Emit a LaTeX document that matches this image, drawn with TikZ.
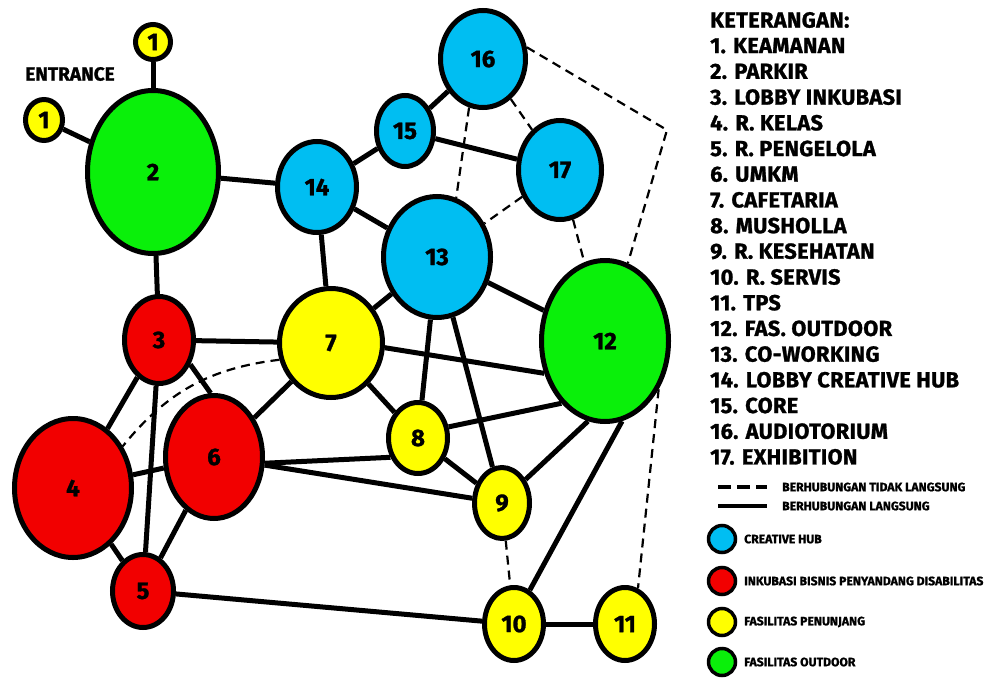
\documentclass[tikz,border=0pt]{standalone}
\usepackage{fontspec}
\setmainfont{Fira Sans}[BoldFeatures={FakeBold=1.2}]
\usetikzlibrary{shapes.geometric}

\definecolor{hub}{RGB}{0,190,242}
\definecolor{inkubasi}{RGB}{242,0,0}
\definecolor{penunjang}{RGB}{255,255,0}
\definecolor{outdoor}{RGB}{10,240,10}

\tikzset{
	room/.style={draw, ellipse, fill=#1, line width=5pt, inner sep=0pt,
		font=\fontsize{24}{24}\selectfont\bfseries},
	dim/.style 2 args={minimum width=#1pt, minimum height=#2pt},
	link/.style={line width=5pt},
	tak/.style={line width=2.2pt, dash pattern=on 9pt off 6pt},
	ket/.style={anchor=west, inner sep=0pt, font=\fontsize{21.8}{21.8}\selectfont\bfseries\addfontfeatures{LetterSpace=1.5}},
	kecil/.style={anchor=west, inner sep=0pt, font=\fontsize{12.2}{12.2}\selectfont\bfseries},
	bulat/.style={draw, circle, fill=#1, line width=3.5pt, minimum size=27pt, inner sep=0pt},
}

\begin{document}
\begin{tikzpicture}[x=1pt, y=-1pt]
			\useasboundingbox (0,0) rectangle (990,677);
			\node[room=penunjang, dim={35}{35}]   (n1a) at (153,  42)  {1};
			\node[room=penunjang, dim={37}{41}]   (n1b) at (44 , 120)  {1};
			\node[room=outdoor,   dim={131}{163}] (n2)  at (153, 172)  {2};
			\node[room=inkubasi,  dim={69}{87}]   (n3)  at (159, 340)  {3};
			\node[room=inkubasi,  dim={117}{139}] (n4)  at (73 , 488)  {4};
			\node[room=inkubasi,  dim={61}{73}]   (n5)  at (143, 591)  {5};
			\node[room=inkubasi,  dim={97}{123}]  (n6)  at (214, 457)  {6};
			\node[room=penunjang, dim={103}{109}] (n7)  at (331, 343)  {7};
			\node[room=penunjang, dim={59}{71}]   (n8)  at (418, 438)  {8};
			\node[room=penunjang, dim={55}{71}]   (n9)  at (502, 503)  {9};
			\node[room=penunjang, dim={59}{73}]   (n10) at (514, 624)  {10};
			\node[room=penunjang, dim={59}{73}]   (n11) at (625, 624)  {11};
			\node[room=outdoor,   dim={127}{161}] (n12) at (605, 341)  {12};
			\node[room=hub,       dim={107}{121}] (n13) at (437, 257)  {13};
			\node[room=hub,       dim={79}{91}]   (n14) at (317, 187)  {14};
			\node[room=hub,       dim={57}{71}]   (n15) at (405, 131)  {15};
			\node[room=hub,       dim={85}{97}]   (n16) at (483,  59)  {16};
			\node[room=hub,       dim={83}{99}]   (n17) at (560, 170)  {17};
			\coordinate (c16) at (667, 130);
			\node[kecil, anchor=center, font=\fontsize{19}{19}\selectfont\bfseries] (entrance) at (70, 74) {ENTRANCE};
			
			\def\langsung {n1a/n2, n1b/n2, n2/n14, n2/n3, n14/n15, n15/n16, n15/n17, n14/n13, n14/n7,
				n13/n7, n13/n12, n13/n8, n13/n9, n3/n7, n3/n4, n3/n5, n7/n6, n7/n8,
				n4/n6, n4/n5, n6/n5, n6/n9, n5/n10, n8/n9, n10/n11}  % center to center
			\foreach \u\v in \langsung
			{	\draw[link] (\u) -- (\v);
			}
			\def\sudut {n7.355/n12.208, n8.20/n12.235, n9.45/n12.258, n10.65/n12.282,
				n3.322/n6.93, n6.353/n8.215}  % at given angles
			\foreach \u\v in \sudut
			{	\draw[link] (\u) -- (\v);
			}
			\def\tidak {n16.254/n13.72, n16/n17, n17/n13, n17/n12, n12.318/n11.70, n9/n10}  % dashed
			\foreach \u\v in \tidak
			{	\draw[tak] (\u) -- (\v);
			}
			\draw[tak] (n16.15) -- (c16) -- (n12);
			\draw[tak] (n7.198) to[bend right=22] (n4.40);
			
			% keterangan
			\node[ket] (k0) at (710, 20) {KETERANGAN:};
			\foreach \i/\nama in {1/KEAMANAN, 2/PARKIR, 3/LOBBY INKUBASI, 4/R. KELAS, 5/R. PENGELOLA,
				6/UMKM, 7/CAFETARIA, 8/MUSHOLLA, 9/R. KESEHATAN, 10/R. SERVIS, 11/TPS,
				12/FAS. OUTDOOR, 13/CO-WORKING, 14/LOBBY CREATIVE HUB, 15/CORE,
				16/AUDIOTORIUM, 17/EXHIBITION}
			{	\node[ket] (k\i) at (710, 20+25.7*\i) {\i. \nama};
			}
			\coordinate (d1) at (718, 487);
			\coordinate (d2) at (767, 487);
			\coordinate (d3) at (718, 506);
			\coordinate (d4) at (767, 506);
			\draw[line width=4pt, dash pattern=on 13pt off 6pt] (d1) -- (d2);
			\draw[line width=4pt] (d3) -- (d4);
			\node[kecil] (t1) at (782, 487) {BERHUBUNGAN TIDAK LANGSUNG};
			\node[kecil] (t2) at (782, 506) {BERHUBUNGAN LANGSUNG};
			
			\node[bulat=hub]       (b1) at (722, 539) {};
			\node[bulat=inkubasi]  (b2) at (722, 581) {};
			\node[bulat=penunjang] (b3) at (722, 622) {};
			\node[bulat=outdoor]   (b4) at (722, 662) {};
			\node[kecil] (g1) at (744, 539) {CREATIVE HUB};
			\node[kecil] (g2) at (744, 581) {INKUBASI BISNIS PENYANDANG DISABILITAS};
			\node[kecil] (g3) at (744, 622) {FASILITAS PENUNJANG};
			\node[kecil] (g4) at (744, 662) {FASILITAS OUTDOOR};
		\end{tikzpicture}
\end{document}
